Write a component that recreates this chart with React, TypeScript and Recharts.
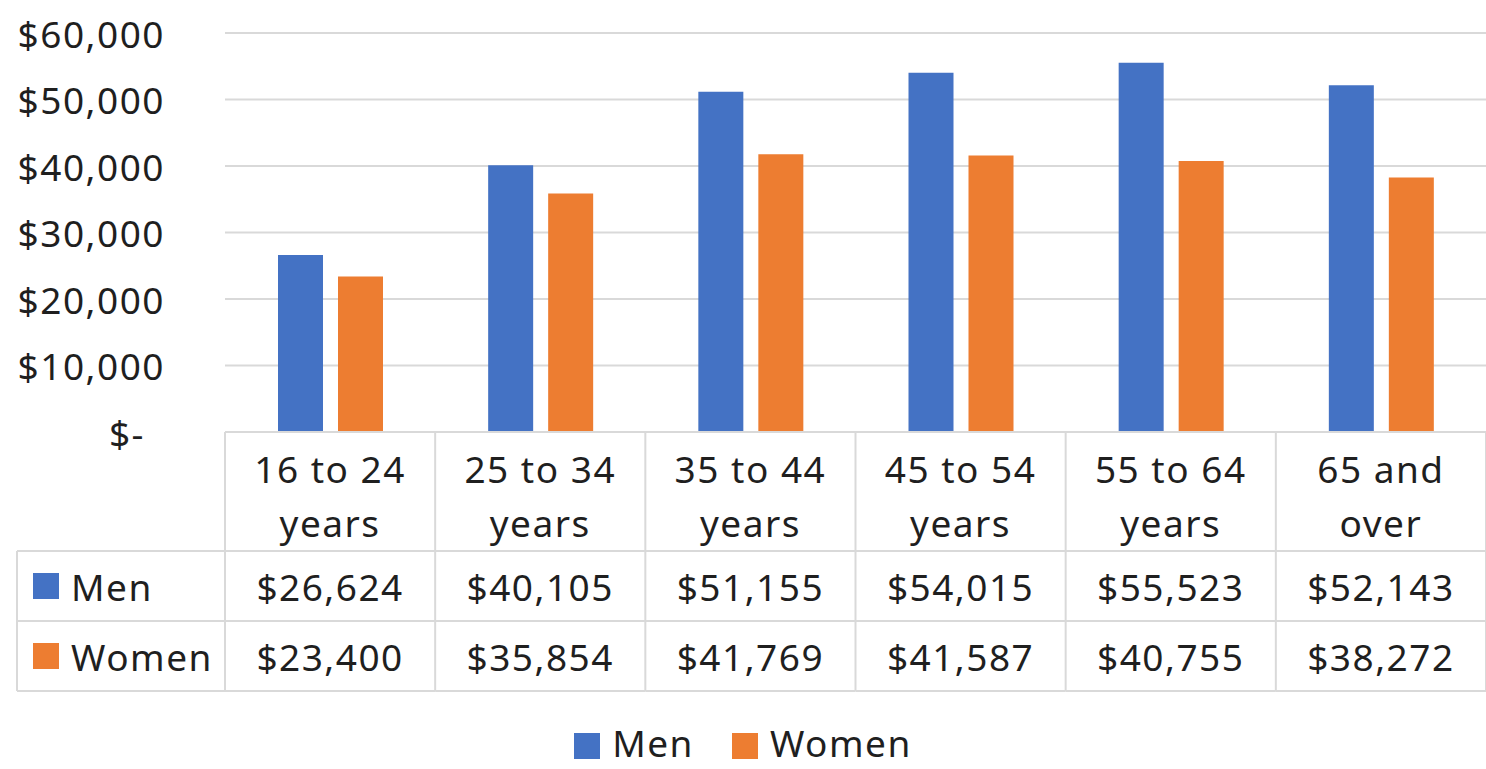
import React from 'react';
import { BarChart, Bar, XAxis, YAxis, CartesianGrid } from 'recharts';

const ageGroups = ['16 to 24\nyears', '25 to 34\nyears', '35 to 44\nyears', '45 to 54\nyears', '55 to 64\nyears', '65 and\nover'];
const menEarnings = [26624, 40105, 51155, 54015, 55523, 52143];
const womenEarnings = [23400, 35854, 41769, 41587, 40755, 38272];
const yTicks = [0, 10000, 20000, 30000, 40000, 50000, 60000];
const seriesNames = ['Men', 'Women'];

const data = ageGroups.map((age, i) => ({ age, Men: menEarnings[i], Women: womenEarnings[i] }));

const W = 1486;
const H = 769;
const LEFT = 225;
const LABEL_COL = 208;
const BAND = (W - LEFT) / ageGroups.length;
const FONT = '"Noto Sans", sans-serif';
const TEXT = '#1f1f1f';
const BORDER = '#d9d9d9';
const SPACING = 1.5;
const COLORS: Record<string, string> = { Men: '#4472C4', Women: '#ED7D31' };

// header row, men row, women row heights
const HEAD_H = 119;
const ROW_H = 70;

const money = (v: number) => (v === 0 ? '$-' : '$' + v.toLocaleString('en-US'));

const YTick = (props: any) => {
  const { x, y, payload } = props;
  const zero = payload.value === 0;
  return (
    <text x={zero ? x - 20 : x} y={y} textAnchor="end" dominantBaseline="central" fontFamily={FONT} fontSize={37} fill={TEXT} letterSpacing={SPACING}>
      {money(payload.value)}
    </text>
  );
};

const TableTick = (props: any) => {
  const { x, y, payload, index } = props;
  const left = x - BAND / 2;
  const right = x + BAND / 2;
  const lines = String(payload.value).split('\n');
  const row = data[index];
  const r1 = y + HEAD_H;
  const r2 = r1 + ROW_H;
  const r3 = r2 + ROW_H;
  const txt = { fontFamily: FONT, fontSize: 37, fill: TEXT, letterSpacing: SPACING, dominantBaseline: 'central' as const };
  return (
    <g>
      {index === 0 && (
        <g>
          <line x1={left} y1={y} x2={left} y2={r3} stroke={BORDER} strokeWidth={2} />
          <line x1={left - LABEL_COL} y1={r1} x2={left} y2={r1} stroke={BORDER} strokeWidth={2} />
          <line x1={left - LABEL_COL} y1={r2} x2={left} y2={r2} stroke={BORDER} strokeWidth={2} />
          <line x1={left - LABEL_COL} y1={r3} x2={left} y2={r3} stroke={BORDER} strokeWidth={2} />
          <line x1={left - LABEL_COL} y1={r1} x2={left - LABEL_COL} y2={r3} stroke={BORDER} strokeWidth={2} />
          {seriesNames.map((name, i) => {
            const cy = r1 + ROW_H * i + ROW_H / 2;
            return (
              <g key={name}>
                <rect x={left - LABEL_COL + 16} y={cy - 13} width={26} height={26} fill={COLORS[name]} />
                <text x={left - LABEL_COL + 54} y={cy} {...txt}>{name}</text>
              </g>
            );
          })}
        </g>
      )}
      <line x1={right} y1={y} x2={right} y2={r3} stroke={BORDER} strokeWidth={2} />
      <line x1={left} y1={r1} x2={right} y2={r1} stroke={BORDER} strokeWidth={2} />
      <line x1={left} y1={r2} x2={right} y2={r2} stroke={BORDER} strokeWidth={2} />
      <line x1={left} y1={r3} x2={right} y2={r3} stroke={BORDER} strokeWidth={2} />
      {lines.map((ln, i) => (
        <text key={i} x={x} y={y + 36 + i * 54} textAnchor="middle" {...txt}>{ln}</text>
      ))}
      <text x={x} y={r1 + ROW_H / 2} textAnchor="middle" {...txt}>{money(row.Men)}</text>
      <text x={x} y={r2 + ROW_H / 2} textAnchor="middle" {...txt}>{money(row.Women)}</text>
    </g>
  );
};

const ChartLegend = () => (
  <div
    style={{
      position: 'absolute', left: 0, top: 724, width: W, display: 'flex', justifyContent: 'center', alignItems: 'center',
      fontFamily: FONT, fontSize: 37, lineHeight: '38px', color: TEXT, letterSpacing: SPACING,
    }}
  >
    {seriesNames.map((name) => (
      <div key={name} style={{ display: 'flex', alignItems: 'center', margin: '0 19px' }}>
        <span style={{ display: 'inline-block', width: 26, height: 26, background: COLORS[name], marginRight: 12, marginTop: 6 }} />
        <span>{name}</span>
      </div>
    ))}
  </div>
);

export default function App() {
  return (
    <div style={{ position: 'absolute', left: 0, top: 0, width: W, height: H, background: '#fff', overflow: 'hidden' }}>
      <BarChart
        width={W}
        height={H}
        data={data}
        margin={{ top: 33, right: 0, bottom: 78, left: 0 }}
        barSize={45}
        barGap={15}
        barCategoryGap="25%"
      >
        <CartesianGrid vertical={false} stroke={BORDER} strokeWidth={2} />
        <XAxis
          dataKey="age"
          height={259}
          interval={0}
          tickLine={false}
          tickSize={0}
          tickMargin={0}
          axisLine={{ stroke: BORDER, strokeWidth: 2 }}
          tick={<TableTick />}
        />
        <YAxis
          width={LEFT}
          domain={[0, 60000]}
          ticks={yTicks}
          axisLine={false}
          tickLine={false}
          tickSize={0}
          tickMargin={60}
          tick={<YTick />}
        />
        <Bar dataKey="Men" fill={COLORS.Men} isAnimationActive={false} />
        <Bar dataKey="Women" fill={COLORS.Women} isAnimationActive={false} />
      </BarChart>
      <ChartLegend />
    </div>
  );
}
